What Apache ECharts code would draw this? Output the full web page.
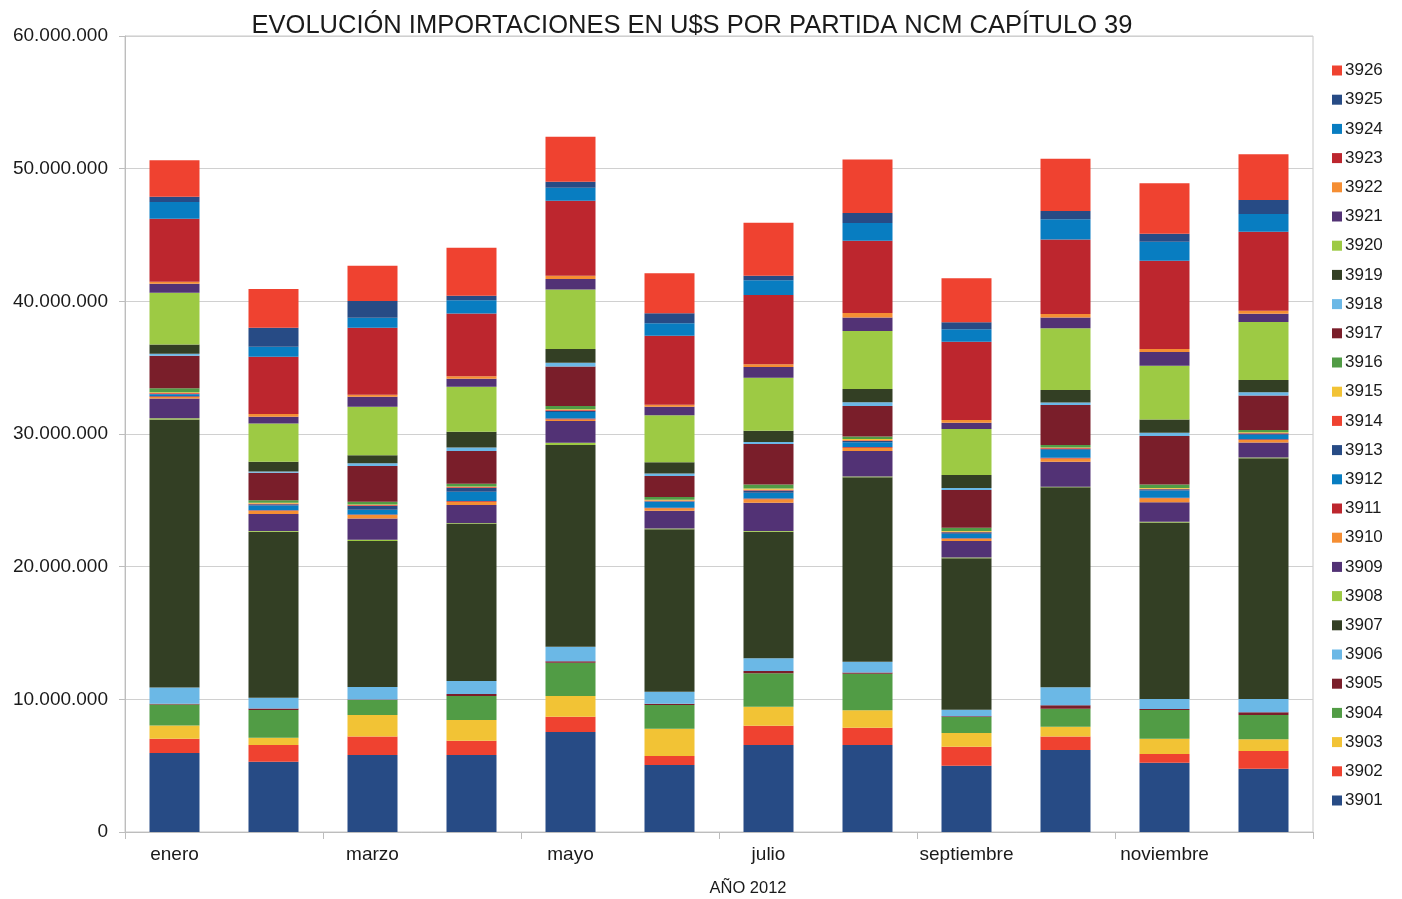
<!DOCTYPE html>
<html>
<head>
<meta charset="utf-8">
<script src="https://cdn.jsdelivr.net/npm/echarts@6/dist/echarts.min.js"></script>
<style>
  html, body { margin: 0; padding: 0; background: #fff; }
  #chart { width: 1402px; height: 899px; }
</style>
</head>
<body>
<div id="chart"></div>
<script>
// Meses del año 2012
const months = ['enero', 'febrero', 'marzo', 'abril', 'mayo', 'junio',
  'julio', 'agosto', 'septiembre', 'octubre', 'noviembre', 'diciembre'];

// Importaciones por partida NCM, en millones de U$S
const p3901 = [5.95, 5.30, 5.80, 5.80, 7.54, 5.05, 6.56, 6.56, 5.00, 6.18, 5.22, 4.77];
const p3902 = [1.08, 1.26, 1.39, 1.08, 1.15, 0.68, 1.45, 1.30, 1.43, 1.01, 0.66, 1.34];
const p3903 = [1.00, 0.55, 1.63, 1.56, 1.56, 2.06, 1.44, 1.31, 1.03, 0.75, 1.15, 0.88];
const p3904 = [1.58, 2.09, 1.13, 1.81, 2.51, 1.78, 2.51, 2.76, 1.21, 1.35, 2.17, 1.83];
const p3905 = [0.05, 0.10, 0.03, 0.15, 0.12, 0.10, 0.17, 0.10, 0.05, 0.27, 0.07, 0.20];
const p3906 = [1.23, 0.82, 0.95, 0.98, 1.09, 0.91, 0.96, 0.81, 0.50, 1.35, 0.75, 1.00];
const p3907 = [20.20, 12.52, 11.00, 11.87, 15.20, 12.24, 9.55, 13.90, 11.41, 15.07, 13.30, 18.15];
const p3908 = [0.10, 0.05, 0.10, 0.05, 0.17, 0.05, 0.05, 0.05, 0.07, 0.05, 0.07, 0.05];
const p3909 = [1.49, 1.28, 1.61, 1.35, 1.64, 1.35, 2.13, 1.93, 1.23, 1.88, 1.46, 1.13];
const p3910 = [0.10, 0.25, 0.25, 0.25, 0.12, 0.18, 0.27, 0.25, 0.17, 0.25, 0.30, 0.20];
const p3911 = [0.06, 0.04, 0.05, 0.05, 0.06, 0.04, 0.05, 0.05, 0.04, 0.05, 0.05, 0.05];
const p3912 = [0.15, 0.35, 0.35, 0.70, 0.50, 0.45, 0.43, 0.35, 0.35, 0.60, 0.55, 0.35];
const p3913 = [0.05, 0.10, 0.30, 0.30, 0.10, 0.05, 0.17, 0.10, 0.10, 0.08, 0.08, 0.08];
const p3914 = [0.05, 0.05, 0.05, 0.05, 0.05, 0.05, 0.05, 0.05, 0.05, 0.05, 0.05, 0.05];
const p3915 = [0.05, 0.05, 0.05, 0.05, 0.05, 0.05, 0.10, 0.10, 0.05, 0.05, 0.05, 0.05];
const p3916 = [0.30, 0.20, 0.20, 0.20, 0.25, 0.22, 0.30, 0.20, 0.25, 0.18, 0.27, 0.17];
const p3917 = [2.45, 2.07, 2.70, 2.47, 2.97, 1.57, 3.06, 2.29, 2.84, 3.01, 3.65, 2.60];
const p3918 = [0.15, 0.10, 0.20, 0.27, 0.30, 0.20, 0.15, 0.28, 0.15, 0.20, 0.25, 0.25];
const p3919 = [0.71, 0.73, 0.60, 1.18, 1.03, 0.84, 0.85, 1.00, 0.98, 0.94, 1.00, 0.92];
const p3920 = [3.89, 2.89, 3.67, 3.39, 4.49, 3.54, 3.99, 4.37, 3.47, 4.65, 4.05, 4.37];
const p3921 = [0.68, 0.50, 0.75, 0.60, 0.78, 0.65, 0.81, 1.03, 0.47, 0.82, 1.03, 0.63];
const p3922 = [0.15, 0.20, 0.15, 0.20, 0.25, 0.15, 0.20, 0.33, 0.20, 0.25, 0.23, 0.22];
const p3923 = [4.75, 4.33, 5.05, 4.73, 5.65, 5.20, 5.23, 5.45, 5.91, 5.63, 6.65, 5.96];
const p3924 = [1.26, 0.75, 0.76, 1.00, 0.98, 0.93, 1.10, 1.33, 0.93, 1.51, 1.43, 1.33];
const p3925 = [0.40, 1.43, 1.25, 0.33, 0.46, 0.76, 0.35, 0.76, 0.53, 0.63, 0.61, 1.06];
const p3926 = [2.76, 2.92, 2.67, 3.61, 3.39, 3.01, 4.00, 4.04, 3.32, 3.94, 3.80, 3.44];

const partidas = ['3901', '3902', '3903', '3904', '3905', '3906', '3907', '3908', '3909',
  '3910', '3911', '3912', '3913', '3914', '3915', '3916', '3917', '3918', '3919', '3920',
  '3921', '3922', '3923', '3924', '3925', '3926'];
const valores = [p3901, p3902, p3903, p3904, p3905, p3906, p3907, p3908, p3909, p3910,
  p3911, p3912, p3913, p3914, p3915, p3916, p3917, p3918, p3919, p3920, p3921, p3922,
  p3923, p3924, p3925, p3926];

// Marcas del eje vertical, en millones
const yTicks = [0, 10, 20, 30, 40, 50, 60];

// Paleta de 12 colores que se repite cada 12 partidas
const palette = ['#274B85', '#EF4230', '#F2C335', '#519C45', '#7A1E2A', '#6BB8E6',
  '#333F24', '#9DCA44', '#523275', '#F58E33', '#BD262E', '#087DC1'];

function formatMiles(m) {
  const n = Math.round(m * 1e6);
  if (n === 0) return '0';
  return String(n).replace(/\B(?=(\d{3})+(?!\d))/g, '.');
}

const FONT = '"Liberation Sans", Arial, sans-serif';

const series = partidas.map((p, i) => ({
  name: p,
  type: 'bar',
  stack: 'total',
  barWidth: 50,
  data: valores[i],
  itemStyle: { color: palette[i % palette.length] },
  emphasis: { disabled: true }
}));

const chart = echarts.init(document.getElementById('chart'), null, { renderer: 'canvas' });
chart.setOption({
  animation: false,
  backgroundColor: '#ffffff',
  textStyle: { fontFamily: FONT },
  graphic: [
    {
      type: 'text', x: 692, y: 13,
      style: {
        text: 'EVOLUCIÓN IMPORTACIONES EN U$S POR PARTIDA NCM CAPÍTULO 39',
        font: '25.5px ' + FONT, fill: '#1a1a1a', textAlign: 'center', textVerticalAlign: 'top'
      }
    },
    {
      type: 'text', x: 748, y: 880,
      style: { text: 'AÑO 2012', font: '16.5px ' + FONT, fill: '#1a1a1a', textAlign: 'center', textVerticalAlign: 'top' }
    }
  ],
  grid: {
    left: 125, top: 36, width: 1188, height: 796,
    show: true, borderColor: '#c8c8c8', borderWidth: 1, containLabel: false
  },
  legend: {
    orient: 'vertical',
    left: 1327, top: 57,
    data: partidas.slice().reverse(),
    icon: 'rect',
    itemWidth: 10, itemHeight: 10,
    itemGap: 12.2,
    textStyle: { fontSize: 17, lineHeight: 17, color: '#1a1a1a', fontFamily: FONT, padding: [0, 0, 0, -2] },
    selectedMode: false
  },
  xAxis: {
    type: 'category',
    data: months,
    boundaryGap: true,
    axisLine: { lineStyle: { color: '#bdbdbd' } },
    axisTick: { show: true, length: 7, lineStyle: { color: '#bdbdbd' } },
    axisLabel: { interval: 1, fontSize: 19, color: '#1a1a1a', margin: 13, fontFamily: FONT },
    splitLine: { show: false }
  },
  yAxis: {
    type: 'value',
    min: 0, max: 60, interval: 10,
    axisLine: { show: true, lineStyle: { color: '#bdbdbd' } },
    axisTick: { show: true, length: 6, lineStyle: { color: '#bdbdbd' } },
    axisLabel: {
      fontSize: 19, color: '#1a1a1a', margin: 17, fontFamily: FONT,
      customValues: yTicks,
      formatter: v => formatMiles(v)
    },
    splitLine: { lineStyle: { color: '#d0d0d0' } }
  },
  series: series
});
</script>
</body>
</html>
